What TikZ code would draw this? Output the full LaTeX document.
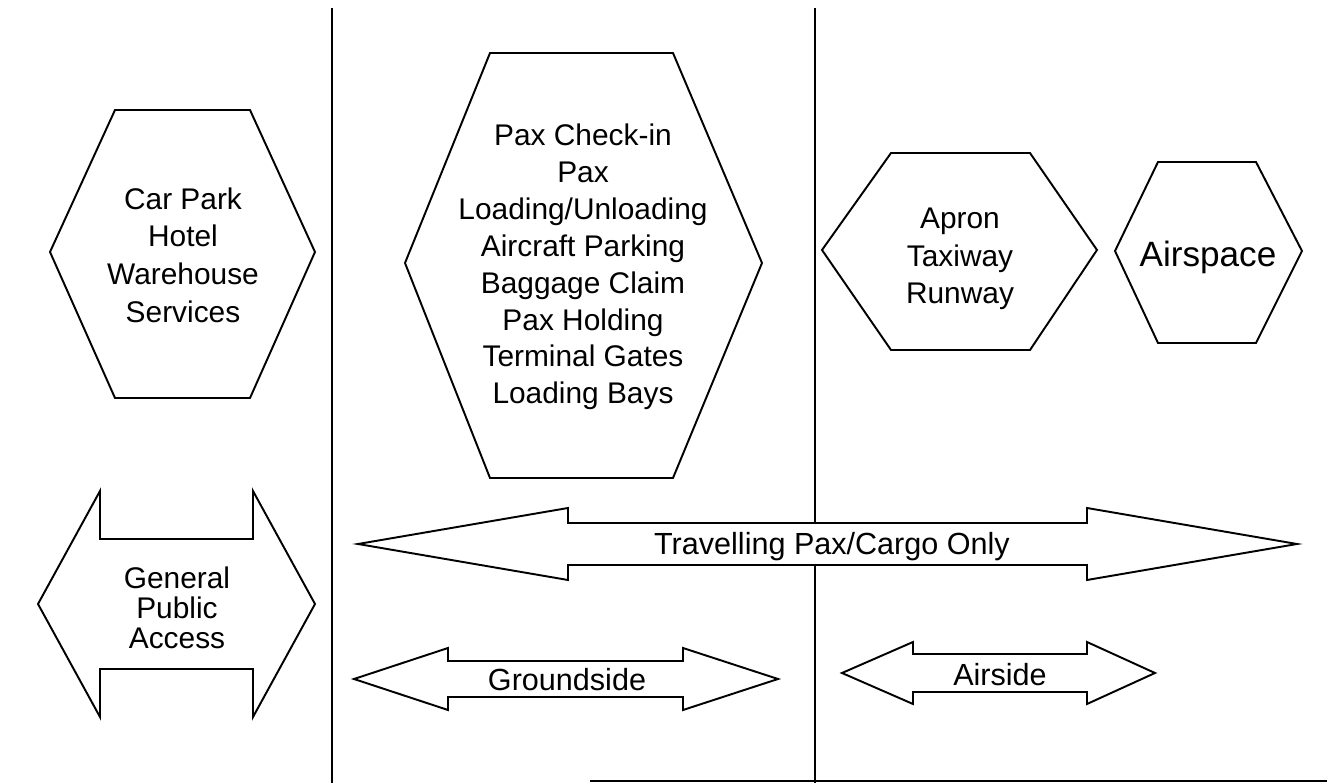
\documentclass[tikz,border=0pt]{standalone}
\usepackage{fontspec}
\setmainfont{Liberation Sans}

% hexagon: left x, top-left x, top-right x, right x, top y, middle y, bottom y
\newcommand{\hexzone}[7]{%
  \draw[outline] (#1,#6) -- (#2,#5) -- (#3,#5) -- (#4,#6) -- (#3,#7) -- (#2,#7) -- cycle;}
% two-way arrow: left tip, left back, right back, right tip, middle y, half shaft, half head
\newcommand{\twoway}[7]{%
  \draw[outline] (#1,#5) -- (#2,{#5-#7}) -- (#2,{#5-#6}) -- (#3,{#5-#6}) -- (#3,{#5-#7})
    -- (#4,#5) -- (#3,{#5+#7}) -- (#3,{#5+#6}) -- (#2,{#5+#6}) -- (#2,{#5+#7}) -- cycle;}

\begin{document}
\begin{tikzpicture}[
  x=0.02cm, y=-0.02cm,
  outline/.style={line width=1.1pt, line join=miter, fill=white},
  divider/.style={line width=1.1pt},
  zone/.style={align=center, inner sep=0pt, font=\fontsize{17}{21.5}\selectfont},
  bigzone/.style={align=center, inner sep=0pt, font=\fontsize{20}{24}\selectfont},
]
\useasboundingbox (0,0) rectangle (1333,783);

% dividers
\coordinate (d1top) at (332,8);
\coordinate (d1bot) at (332,783);
\coordinate (d2top) at (815,8);
\coordinate (d2bot) at (815,783);
\coordinate (basel) at (590,781);
\coordinate (baser) at (1327,781);
\draw[divider] (d1top) -- (d1bot);
\draw[divider] (d2top) -- (d2bot);
\draw[divider] (basel) -- (baser);

% zones
\hexzone{50}{115}{250}{315}{110}{252}{398}
\hexzone{405}{490}{673}{762}{53}{263}{478}
\hexzone{822}{891}{1030}{1097}{153}{250}{350}
\hexzone{1115}{1158}{1256}{1302}{162}{251}{343}

\node[zone] (landside) at (183,255) {Car Park\\Hotel\\Warehouse\\Services};
\node[zone, font=\fontsize{17}{21}\selectfont] (terminal) at (583,267)
  {Pax Check-in\\Pax\\Loading/Unloading\\Aircraft Parking\\Baggage Claim\\Pax Holding\\Terminal Gates\\Loading Bays};
\node[zone] (movement) at (960,259) {Apron\\Taxiway\\Runway};
\node[bigzone] (airspace) at (1208,257) {Airspace};

% access arrows
\twoway{38}{100}{253}{315}{604}{65}{113}
\twoway{358}{568}{1087}{1297}{544}{21}{36}
\twoway{354}{448}{683}{778}{679}{18}{31}
\twoway{842}{913}{1087}{1155}{673}{19}{31}

\node[zone, font=\fontsize{17}{17}\selectfont] (public) at (177,608) {General\\Public\\Access};
\node[zone, font=\fontsize{17.4}{20}\selectfont] (travel) at (832,547) {Travelling Pax/Cargo Only};
\node[zone, font=\fontsize{17.4}{20}\selectfont] (ground) at (567,680) {Groundside};
\node[zone, font=\fontsize{17.4}{20}\selectfont] (air) at (1000,675) {Airside};

\end{tikzpicture}
\end{document}
